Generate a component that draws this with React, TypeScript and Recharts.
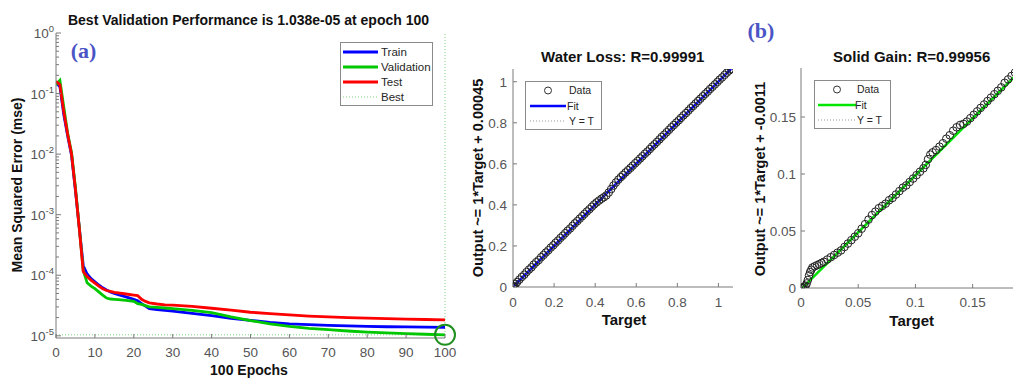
import React from 'react';
import {
  LineChart,
  Line,
  XAxis,
  YAxis,
  ReferenceLine,
  ReferenceDot,
  Legend,
  ComposedChart,
  Scatter,
} from 'recharts';

const FONT = "'Liberation Sans', Arial, Helvetica, sans-serif";
const SERIF = "'Liberation Serif', 'Times New Roman', serif";

// ---------- (a) training performance ----------
const epochs = [0, 1, 2, 3, 4, 5, 6, 7, 8, 9, 10, 11, 12, 13, 14, 15, 16, 18, 20, 21, 22, 23, 24, 26, 28, 30, 35, 40, 45, 50, 55, 60, 65, 70, 75, 80, 85, 90, 95, 100];
const trainMse = [0.15, 0.13, 0.045, 0.02, 0.0095, 0.0025, 0.0006, 0.000145, 0.000105, 0.000088, 0.000078, 0.000069, 0.000062, 0.000057, 0.000053, 0.00005, 0.000048, 0.000044, 0.00004, 0.000038, 0.000034, 0.000031, 0.000028, 0.0000272, 0.0000263, 0.0000255, 0.0000235, 0.0000215, 0.0000195, 0.000018, 0.0000166, 0.0000158, 0.0000153, 0.0000149, 0.0000146, 0.0000143, 0.0000141, 0.000014, 0.0000139, 0.0000138];
const validationMse = [0.14, 0.165, 0.06, 0.022, 0.0105, 0.0028, 0.0006, 0.00012, 0.000075, 0.000066, 0.00006, 0.000053, 0.000047, 0.000042, 0.0000405, 0.00004, 0.0000395, 0.0000385, 0.000037, 0.000034, 0.000033, 0.0000315, 0.00003, 0.0000295, 0.0000288, 0.000028, 0.0000262, 0.0000242, 0.0000205, 0.0000178, 0.0000158, 0.0000143, 0.0000133, 0.0000126, 0.000012, 0.0000115, 0.0000112, 0.0000109, 0.0000106, 0.00001038];
const testMse = [0.16, 0.14, 0.05, 0.021, 0.01, 0.0026, 0.00058, 0.000115, 0.000095, 0.000083, 0.000074, 0.000066, 0.00006, 0.000056, 0.000054, 0.000052, 0.000051, 0.000049, 0.000047, 0.000046, 0.00004, 0.000037, 0.000035, 0.0000335, 0.0000325, 0.000032, 0.0000305, 0.0000285, 0.0000265, 0.0000245, 0.0000232, 0.0000222, 0.0000212, 0.0000205, 0.00002, 0.0000196, 0.0000192, 0.0000189, 0.0000186, 0.0000183];
const bestEpoch = 100;
const bestValidation = 1.038e-5;
const epochTicks = [0, 10, 20, 30, 40, 50, 60, 70, 80, 90, 100];
const mseMajorTicks = [1e-5, 1e-4, 1e-3, 1e-2, 1e-1, 1];
const mseMinorMultipliers = [2, 3, 4, 5, 6, 7, 8, 9];
const mseDomain: [number, number] = [9.2e-6, 1];

// ---------- (b) regression: water loss ----------
const waterTarget = [0.0, 0.002, 0.006, 0.012, 0.02, 0.031, 0.043, 0.055, 0.066, 0.078, 0.09, 0.101, 0.113, 0.125, 0.137, 0.149, 0.16, 0.172, 0.184, 0.196, 0.207, 0.219, 0.231, 0.243, 0.254, 0.266, 0.278, 0.29, 0.301, 0.313, 0.325, 0.337, 0.348, 0.36, 0.372, 0.384, 0.395, 0.407, 0.419, 0.431, 0.442, 0.454, 0.466, 0.478, 0.489, 0.501, 0.513, 0.525, 0.536, 0.548, 0.56, 0.572, 0.583, 0.595, 0.607, 0.619, 0.63, 0.642, 0.654, 0.666, 0.677, 0.689, 0.701, 0.713, 0.724, 0.736, 0.748, 0.76, 0.771, 0.783, 0.795, 0.807, 0.818, 0.83, 0.842, 0.854, 0.865, 0.877, 0.889, 0.901, 0.912, 0.924, 0.936, 0.948, 0.959, 0.971, 0.983, 0.995, 1.006, 1.018, 1.03, 1.041, 1.053, 1.062];
const waterOutput = [0.003, 0.0, 0.004, 0.015, 0.024, 0.036, 0.049, 0.06, 0.073, 0.085, 0.096, 0.109, 0.121, 0.131, 0.145, 0.156, 0.168, 0.179, 0.192, 0.203, 0.215, 0.226, 0.239, 0.25, 0.262, 0.274, 0.285, 0.298, 0.31, 0.321, 0.333, 0.345, 0.356, 0.368, 0.379, 0.391, 0.402, 0.412, 0.421, 0.43, 0.437, 0.446, 0.46, 0.477, 0.494, 0.509, 0.523, 0.535, 0.546, 0.558, 0.569, 0.58, 0.591, 0.603, 0.614, 0.626, 0.637, 0.649, 0.66, 0.672, 0.684, 0.695, 0.707, 0.719, 0.731, 0.742, 0.754, 0.766, 0.778, 0.789, 0.801, 0.812, 0.824, 0.836, 0.847, 0.859, 0.871, 0.882, 0.894, 0.906, 0.917, 0.929, 0.941, 0.952, 0.964, 0.975, 0.987, 0.999, 1.01, 1.021, 1.033, 1.044, 1.055, 1.062];
const waterFitSlope = 1;
const waterFitIntercept = 0.00045;
const waterTicks = [0, 0.2, 0.4, 0.6, 0.8, 1];
const waterXDomain: [number, number] = [0, 1.071];
const waterYDomain: [number, number] = [0, 1.062];

// ---------- (b) regression: solid gain ----------
const solidTarget = [0.0, 0.001, 0.002, 0.003, 0.004, 0.005, 0.006, 0.007, 0.008, 0.009, 0.01, 0.012, 0.014, 0.016, 0.018, 0.02, 0.023, 0.026, 0.029, 0.032, 0.035, 0.038, 0.041, 0.044, 0.047, 0.05, 0.053, 0.056, 0.059, 0.062, 0.065, 0.068, 0.071, 0.074, 0.077, 0.08, 0.083, 0.086, 0.089, 0.092, 0.095, 0.098, 0.101, 0.104, 0.107, 0.109, 0.111, 0.113, 0.115, 0.118, 0.121, 0.124, 0.127, 0.13, 0.133, 0.136, 0.139, 0.142, 0.145, 0.148, 0.151, 0.154, 0.157, 0.16, 0.163, 0.166, 0.169, 0.172, 0.175, 0.178, 0.181, 0.184, 0.187, 0.19];
const solidOutput = [0.0, 0.0005, 0.0, 0.001, 0.002, 0.004, 0.007, 0.011, 0.014, 0.016, 0.018, 0.019, 0.02, 0.021, 0.022, 0.023, 0.025, 0.027, 0.029, 0.031, 0.033, 0.036, 0.039, 0.042, 0.045, 0.048, 0.052, 0.056, 0.06, 0.064, 0.067, 0.07, 0.072, 0.074, 0.077, 0.079, 0.082, 0.085, 0.088, 0.09, 0.093, 0.096, 0.099, 0.102, 0.105, 0.108, 0.113, 0.117, 0.119, 0.121, 0.124, 0.127, 0.131, 0.134, 0.138, 0.141, 0.143, 0.144, 0.146, 0.149, 0.152, 0.155, 0.158, 0.161, 0.164, 0.167, 0.17, 0.173, 0.176, 0.18, 0.183, 0.186, 0.189, 0.192];
const solidFitSlope = 1;
const solidFitIntercept = -0.0011;
const solidTicks = [0, 0.05, 0.1, 0.15];
const solidXDomain: [number, number] = [0, 0.194];
const solidYDomain: [number, number] = [0, 0.193];

// ---------- derived tables ----------
const perfData = epochs.map((e, i) => ({
  epoch: e,
  train: trainMse[i],
  validation: validationMse[i],
  test: testMse[i],
}));

const mseTicks = [
  ...mseMajorTicks,
  ...mseMajorTicks.slice(0, -1).flatMap((d) => mseMinorMultipliers.map((m) => m * d)),
].sort((a, b) => a - b);

const waterPoints = waterTarget.map((t, i) => ({ x: t, y: waterOutput[i] }));
const solidPoints = solidTarget.map((t, i) => ({ x: t, y: solidOutput[i] }));

const lineEnds = (targets: number[], slope: number, intercept: number) => {
  const lo = Math.min(...targets);
  const hi = Math.max(...targets);
  return [
    { x: lo, y: slope * lo + intercept },
    { x: hi, y: slope * hi + intercept },
  ];
};
const waterFit = lineEnds(waterTarget, waterFitSlope, waterFitIntercept);
const waterIdentity = lineEnds(waterTarget, 1, 0);
const solidFit = lineEnds(solidTarget, solidFitSlope, solidFitIntercept);
const solidIdentity = lineEnds(solidTarget, 1, 0);

const AXIS = '#7a7a7a';
const TICKTXT = '#555555';
const BLUE = '#0000ff';
const VGREEN = '#00c800';
const RED = '#ff0000';
const LIME = '#00e600';

const LogYTick = (props: any) => {
  const { x, y, payload } = props;
  const v = payload.value;
  const axisX = x + 2;
  const major = mseMajorTicks.some((m) => Math.abs(m - v) / m < 1e-9);
  return (
    <g>
      <line x1={axisX} x2={axisX + (major ? 5 : 3)} y1={y} y2={y} stroke={AXIS} strokeWidth={1} />
      {major && (
        <text x={x} y={y + 5} textAnchor="end" fontSize={13.5} fill={TICKTXT} fontFamily={FONT}>
          10
          <tspan dy={-6} fontSize={9.5}>
            {String(Math.round(Math.log10(v)))}
          </tspan>
        </text>
      )}
    </g>
  );
};

const PerfLegend = () => (
  <svg width={94} height={65} style={{ display: 'block' }}>
    <rect x={0.5} y={0.5} width={92} height={63} fill="#fff" stroke="#8a8a8a" />
    {[
      { label: 'Train', color: BLUE, dash: undefined, w: 3 },
      { label: 'Validation', color: VGREEN, dash: undefined, w: 3 },
      { label: 'Test', color: RED, dash: undefined, w: 3 },
      { label: 'Best', color: '#7ed67e', dash: '1 2', w: 1 },
    ].map((e, i) => (
      <g key={e.label}>
        <line x1={3} x2={38} y1={10 + i * 15} y2={10 + i * 15} stroke={e.color} strokeWidth={e.w} strokeDasharray={e.dash} />
        <text x={41} y={14 + i * 15} fontSize={11.5} fill="#262626" fontFamily={FONT}>
          {e.label}
        </text>
      </g>
    ))}
  </svg>
);

const RegLegend = ({ fitColor, lineX1, lineX2, textX }: { fitColor: string; lineX1: number; lineX2: number; textX: number }) => (
  <svg width={78} height={50} style={{ display: 'block' }}>
    <rect x={0.5} y={0.5} width={76} height={48} fill="#fff" stroke="#8a8a8a" />
    <circle cx={(lineX1 + lineX2) / 2} cy={9.5} r={3.5} fill="none" stroke="#333" strokeWidth={1} />
    <text x={textX} y={13} fontSize={10.5} fill="#262626" fontFamily={FONT}>Data</text>
    <line x1={lineX1} x2={lineX2} y1={25} y2={25} stroke={fitColor} strokeWidth={2.5} />
    <text x={textX - 2} y={29} fontSize={10.5} fill="#262626" fontFamily={FONT}>Fit</text>
    <line x1={lineX1} x2={lineX2} y1={40} y2={40} stroke="#999" strokeWidth={1} strokeDasharray="1 2" />
    <text x={textX} y={44} fontSize={10.5} fill="#262626" fontFamily={FONT}>Y = T</text>
  </svg>
);

const Circle = (props: any) => (
  <circle cx={props.cx} cy={props.cy} r={3.8} fill="none" stroke="#222" strokeWidth={1} />
);

function PerfChart() {
  return (
    <LineChart
      width={460}
      height={378}
      data={perfData}
      margin={{ top: 33, right: 15, bottom: 10, left: 10 }}
      style={{ fontFamily: FONT }}
    >
      <XAxis
        dataKey="epoch"
        type="number"
        domain={[0, 100]}
        ticks={epochTicks}
        interval={0}
        height={30}
        stroke={AXIS}
        tickSize={-4}
        tickMargin={13}
        tick={{ fontSize: 13.5, fill: TICKTXT, fontFamily: FONT }}
        allowDataOverflow
      />
      <YAxis
        type="number"
        scale="log"
        domain={mseDomain}
        ticks={mseTicks}
        interval={0}
        width={46}
        stroke={AXIS}
        tickLine={false}
        tickSize={0}
        tickMargin={2}
        tick={<LogYTick />}
        allowDataOverflow
      />
      <ReferenceLine x={bestEpoch} stroke="#7ed67e" strokeDasharray="1 2" strokeWidth={1} />
      <ReferenceLine y={bestValidation} stroke="#7ed67e" strokeDasharray="1 2" strokeWidth={1} />
      <Line dataKey="train" stroke={BLUE} strokeWidth={2.8} dot={false} isAnimationActive={false} type="linear" />
      <Line dataKey="validation" stroke={VGREEN} strokeWidth={2.8} dot={false} isAnimationActive={false} type="linear" />
      <Line dataKey="test" stroke={RED} strokeWidth={2.8} dot={false} isAnimationActive={false} type="linear" />
      <ReferenceDot x={bestEpoch} y={bestValidation} r={10} fill="none" stroke="#1f8f1f" strokeWidth={2} ifOverflow="visible" />
      <Legend
        layout="horizontal"
        verticalAlign="middle"
        align="center"
        wrapperStyle={{ left: 340, top: 42, width: 94, height: 65 }}
        content={() => <PerfLegend />}
      />
    </LineChart>
  );
}

function RegChart(props: {
  points: { x: number; y: number }[];
  fit: { x: number; y: number }[];
  identity: { x: number; y: number }[];
  fitColor: string;
  xDomain: [number, number];
  yDomain: [number, number];
  ticks: number[];
  margin: { top: number; right: number; bottom: number; left: number };
  yWidth: number;
  yTickMargin: number;
  xTickMargin: number;
  legendLeft: number;
  legendTop: number;
  legendLine: [number, number, number];
}) {
  const p = props;
  return (
    <ComposedChart width={290} height={378} margin={p.margin} style={{ fontFamily: FONT }}>
      <XAxis
        xAxisId="b"
        dataKey="x"
        type="number"
        domain={p.xDomain}
        ticks={p.ticks}
        interval={0}
        height={30}
        stroke={AXIS}
        tickSize={-4}
        tickMargin={p.xTickMargin}
        tick={{ fontSize: 13.5, fill: TICKTXT, fontFamily: FONT }}
        allowDataOverflow
      />
      <XAxis
        xAxisId="t"
        orientation="top"
        dataKey="x"
        type="number"
        domain={p.xDomain}
        ticks={p.ticks}
        interval={0}
        height={0}
        stroke={AXIS}
        tickSize={-4}
        tick={false}
        allowDataOverflow
      />
      <YAxis
        yAxisId="l"
        dataKey="y"
        type="number"
        domain={p.yDomain}
        ticks={p.ticks}
        interval={0}
        width={p.yWidth}
        stroke={AXIS}
        tickSize={-4}
        tickMargin={p.yTickMargin}
        tick={{ fontSize: 13.5, fill: TICKTXT, fontFamily: FONT }}
        allowDataOverflow
      />
      <YAxis
        yAxisId="r"
        orientation="right"
        dataKey="y"
        type="number"
        domain={p.yDomain}
        ticks={p.ticks}
        interval={0}
        width={0}
        stroke={AXIS}
        tickSize={-4}
        tick={false}
        allowDataOverflow
      />
      <Scatter
        xAxisId="b"
        yAxisId="l"
        data={p.points}
        dataKey="y"
        shape={<Circle />}
        isAnimationActive={false}
      />
      <Line
        xAxisId="b"
        yAxisId="l"
        data={p.fit}
        dataKey="y"
        stroke={p.fitColor}
        strokeWidth={2.6}
        dot={false}
        isAnimationActive={false}
        type="linear"
      />
      <Line
        xAxisId="b"
        yAxisId="l"
        data={p.identity}
        dataKey="y"
        stroke="#888"
        strokeWidth={1}
        strokeDasharray="1 2"
        dot={false}
        isAnimationActive={false}
        type="linear"
      />
      <Legend
        layout="horizontal"
        verticalAlign="middle"
        align="center"
        wrapperStyle={{ left: p.legendLeft, top: p.legendTop, width: 78, height: 50 }}
        content={() => (
          <RegLegend fitColor={p.fitColor} lineX1={p.legendLine[0]} lineX2={p.legendLine[1]} textX={p.legendLine[2]} />
        )}
      />
    </ComposedChart>
  );
}

export default function App() {
  return (
    <div
      style={{
        position: 'absolute',
        left: 0,
        top: 0,
        width: 1013,
        height: 378,
        overflow: 'hidden',
        background: '#fff',
        fontFamily: FONT,
      }}
    >
      <div style={{ position: 'absolute', left: 0, top: 0 }}>
        <PerfChart />
      </div>
      <div style={{ position: 'absolute', left: 460, top: 0 }}>
        <RegChart
          points={waterPoints}
          fit={waterFit}
          identity={waterIdentity}
          fitColor={BLUE}
          xDomain={waterXDomain}
          yDomain={waterYDomain}
          ticks={waterTicks}
          margin={{ top: 69, right: 17, bottom: 61, left: 10 }}
          yWidth={43}
          yTickMargin={10}
          xTickMargin={14}
          legendLeft={65}
          legendTop={81}
          legendLine={[5, 41, 44]}
        />
      </div>
      <div style={{ position: 'absolute', left: 750, top: 0 }}>
        <RegChart
          points={solidPoints}
          fit={solidFit}
          identity={solidIdentity}
          fitColor={LIME}
          xDomain={solidXDomain}
          yDomain={solidYDomain}
          ticks={solidTicks}
          margin={{ top: 68, right: 17, bottom: 60, left: 8 }}
          yWidth={43}
          yTickMargin={9}
          xTickMargin={13}
          legendLeft={64}
          legendTop={80}
          legendLine={[4, 42, 43]}
        />
      </div>
      <svg
        width={1013}
        height={378}
        style={{ position: 'absolute', left: 0, top: 0, pointerEvents: 'none' }}
      >
        <g fontFamily={FONT} fontWeight="bold" fill="#111">
          <text x={248.5} y={25} textAnchor="middle" fontSize={14}>
            Best Validation Performance is 1.038e-05 at epoch 100
          </text>
          <text x={249} y={375} textAnchor="middle" fontSize={14}>100 Epochs</text>
          <text transform="translate(21.5,185) rotate(-90)" textAnchor="middle" fontSize={14}>
            Mean Squared Error  (mse)
          </text>
          <text x={622.7} y={61.5} textAnchor="middle" fontSize={15}>Water Loss: R=0.99991</text>
          <text x={624} y={325} textAnchor="middle" fontSize={15}>Target</text>
          <text transform="translate(483,178) rotate(-90)" textAnchor="middle" fontSize={14.5}>
            Output ~= 1*Target + 0.00045
          </text>
          <text x={911.7} y={61.5} textAnchor="middle" fontSize={15}>Solid Gain: R=0.99956</text>
          <text x={911.7} y={326} textAnchor="middle" fontSize={15}>Target</text>
          <text transform="translate(765,179) rotate(-90)" textAnchor="middle" fontSize={14.5}>
            Output ~= 1*Target + -0.0011
          </text>
        </g>
        <g fontFamily={SERIF} fontWeight="bold" fill="#4a54c6" fontSize={22}>
          <text x={83.5} y={58} textAnchor="middle">(a)</text>
          <text x={761} y={38} textAnchor="middle">(b)</text>
        </g>
      </svg>
    </div>
  );
}
